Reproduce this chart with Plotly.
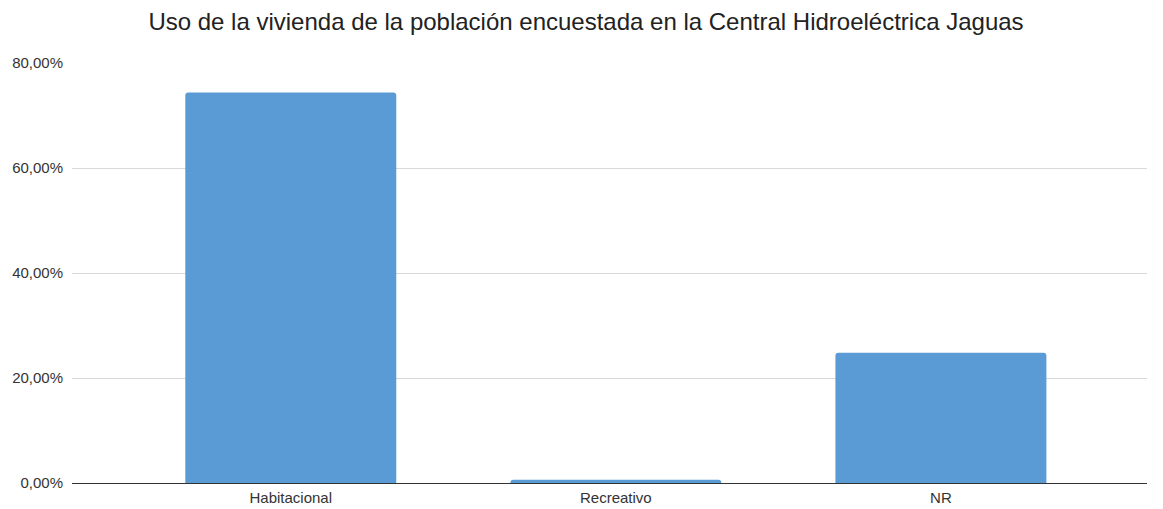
import plotly.graph_objects as go

categories = ["Habitacional", "Recreativo", "NR"]
values = [0.744, 0.006, 0.248]
y_ticks = [0, 0.2, 0.4, 0.6, 0.8]
y_tick_labels = ["0,00%", "20,00%", "40,00%", "60,00%", "80,00%"]

# page body has an 8px margin, so the figure is drawn at (8, 8)
W, H = 1155, 501

fig = go.Figure(go.Bar(
    x=categories, y=values,
    marker=dict(color="#5b9bd5", line=dict(width=0)),
    hoverinfo="skip",
))

fig.update_layout(
    width=W, height=H,
    paper_bgcolor="white", plot_bgcolor="white",
    margin=dict(l=64, r=16, t=55, b=26, autoexpand=False),
    bargap=0.351,
    barcornerradius=3,
    showlegend=False,
    font=dict(family="Liberation Sans, Arial, sans-serif", color="#333333", size=15),
    title=dict(
        text="Uso de la vivienda de la población encuestada en la Central Hidroeléctrica Jaguas",
        x=578 / W, xanchor="center", y=1 - 14 / H, yanchor="middle",
        font=dict(size=24, color="#222222", family="Liberation Sans, Arial, sans-serif"),
    ),
    xaxis=dict(
        range=[-0.673, 2.634],
        showgrid=False, showline=False, zeroline=False,
        ticks="", ticklabelstandoff=4,
        tickfont=dict(size=15, color="#333333"),
        automargin=False, fixedrange=True,
    ),
    yaxis=dict(
        range=[0, 0.8],
        tickvals=y_ticks, ticktext=y_tick_labels,
        showgrid=True, gridcolor="#d9d9d9", gridwidth=1,
        zeroline=True, zerolinecolor="#333333", zerolinewidth=1,
        showline=False, ticks="", ticklabelstandoff=8,
        tickfont=dict(size=15, color="#333333"),
        automargin=False, fixedrange=True,
    ),
)

fig.write_html("out.html")
